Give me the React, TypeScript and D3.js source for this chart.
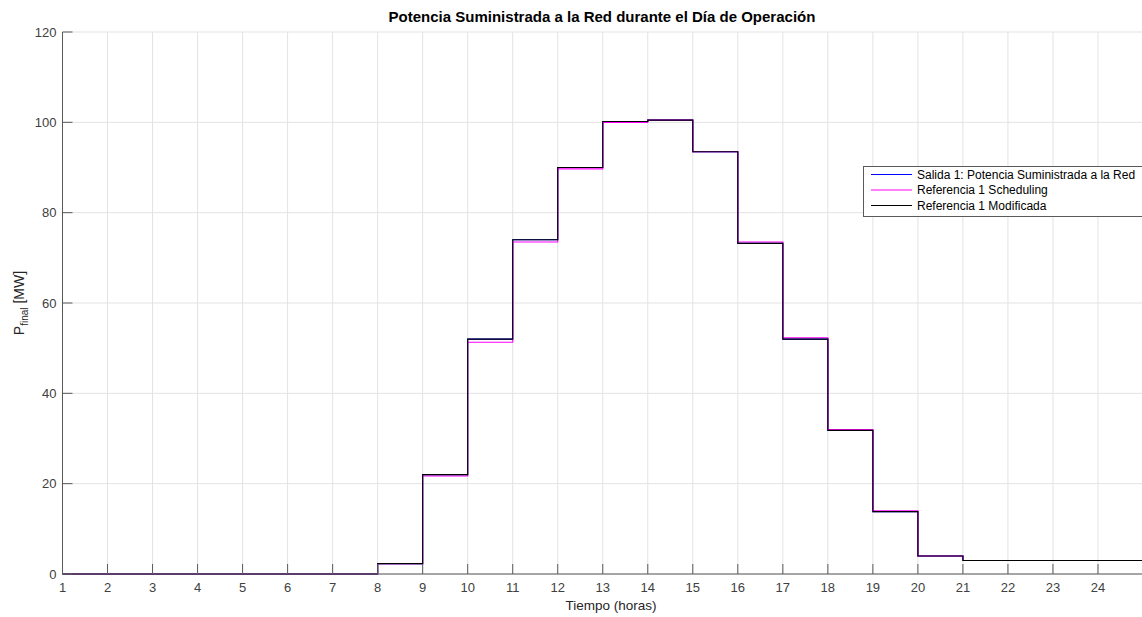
import React, { useEffect, useRef } from "react";
import * as d3 from "d3";

// Hourly blocks: each value holds from hour h to h+1
const hours = [1, 2, 3, 4, 5, 6, 7, 8, 9, 10, 11, 12, 13, 14, 15, 16, 17, 18, 19, 20, 21, 22, 23, 24];
const salida = [0, 0, 0, 0, 0, 0, 0, 2.3, 22.0, 52.0, 74.0, 90.0, 100.2, 100.5, 93.5, 73.2, 52.0, 31.8, 13.8, 4.0, 3.0, 3.0, 3.0, 3.0];
const scheduling = [0, 0, 0, 0, 0, 0, 0, 2.3, 21.7, 51.3, 73.5, 89.7, 100.0, 100.5, 93.5, 73.5, 52.3, 32.0, 14.0, 4.0, 3.0, 3.0, 3.0, 3.0];
const modificada = [0, 0, 0, 0, 0, 0, 0, 2.3, 22.0, 52.0, 74.0, 90.0, 100.2, 100.5, 93.5, 73.2, 52.0, 31.8, 13.8, 4.0, 3.0, 3.0, 3.0, 3.0];
const xTicks = [1, 2, 3, 4, 5, 6, 7, 8, 9, 10, 11, 12, 13, 14, 15, 16, 17, 18, 19, 20, 21, 22, 23, 24];
const yTicks = [0, 20, 40, 60, 80, 100, 120];
const seriesNames = [
  "Salida 1: Potencia Suministrada a la Red",
  "Referencia 1 Scheduling",
  "Referencia 1 Modificada",
];
const seriesColors = ["#0000ff", "#ff00ff", "#000000"];

const W = 1142;
const H = 617;
const FONT = "'Liberation Sans', Arial, Helvetica, sans-serif";

export default function App() {
  const ref = useRef<SVGSVGElement | null>(null);

  useEffect(() => {
    const svg = d3.select(ref.current);
    svg.selectAll("*").remove();

    const x = d3.scaleLinear().domain([1, 25]).range([62.5, 1143]);
    const y = d3.scaleLinear().domain([0, 120]).range([574, 32]);

    const g = svg.append("g");

    // grid
    g.selectAll("line.vg")
      .data(xTicks.concat([25]))
      .enter()
      .append("line")
      .attr("x1", (d) => x(d))
      .attr("x2", (d) => x(d))
      .attr("y1", y(0))
      .attr("y2", y(120))
      .attr("stroke", "#e3e3e3")
      .attr("stroke-width", 1);
    g.selectAll("line.hg")
      .data(yTicks)
      .enter()
      .append("line")
      .attr("x1", x(1))
      .attr("x2", W)
      .attr("y1", (d) => y(d))
      .attr("y2", (d) => y(d))
      .attr("stroke", "#e3e3e3")
      .attr("stroke-width", 1);

    // step series
    const series = [salida, scheduling, modificada];
    series.forEach((vals, i) => {
      const pts: [number, number][] = hours.map((h, k) => [h, vals[k]]);
      pts.push([25, vals[vals.length - 1]]);
      const line = d3
        .line<[number, number]>()
        .x((d) => x(d[0]))
        .y((d) => y(d[1]))
        .curve(d3.curveStepAfter);
      g.append("path")
        .attr("d", line(pts))
        .attr("fill", "none")
        .attr("stroke", seriesColors[i])
        .attr("stroke-width", 1.1);
    });

    // axes lines
    const axisColor = "#5a5a5a";
    g.append("line")
      .attr("x1", x(1))
      .attr("x2", W)
      .attr("y1", y(0))
      .attr("y2", y(0))
      .attr("stroke", axisColor);
    g.append("line")
      .attr("x1", x(1))
      .attr("x2", x(1))
      .attr("y1", y(0))
      .attr("y2", y(120))
      .attr("stroke", axisColor);

    // x ticks
    xTicks.forEach((t) => {
      g.append("line")
        .attr("x1", x(t))
        .attr("x2", x(t))
        .attr("y1", y(0))
        .attr("y2", y(0) - 10)
        .attr("stroke", axisColor);
      g.append("text")
        .attr("x", x(t))
        .attr("y", y(0) + 18)
        .attr("text-anchor", "middle")
        .attr("font-family", FONT)
        .attr("font-size", 13)
        .attr("fill", "#404040")
        .text(String(t));
    });

    // y ticks
    yTicks.forEach((t) => {
      g.append("line")
        .attr("x1", x(1))
        .attr("x2", x(1) + 10)
        .attr("y1", y(t))
        .attr("y2", y(t))
        .attr("stroke", axisColor);
      g.append("text")
        .attr("x", x(1) - 6)
        .attr("y", y(t) + 4.5)
        .attr("text-anchor", "end")
        .attr("font-family", FONT)
        .attr("font-size", 13)
        .attr("fill", "#404040")
        .text(String(t));
    });

    // title
    svg
      .append("text")
      .attr("x", 602)
      .attr("y", 22)
      .attr("text-anchor", "middle")
      .attr("font-family", FONT)
      .attr("font-size", 15)
      .attr("font-weight", "bold")
      .attr("fill", "#000")
      .text("Potencia Suministrada a la Red durante el Día de Operación");

    // x label
    svg
      .append("text")
      .attr("x", 611)
      .attr("y", 610)
      .attr("text-anchor", "middle")
      .attr("font-family", FONT)
      .attr("font-size", 13.5)
      .attr("fill", "#262626")
      .text("Tiempo (horas)");

    // y label with subscript
    const yl = svg
      .append("text")
      .attr("transform", "translate(24,303) rotate(-90)")
      .attr("text-anchor", "middle")
      .attr("font-family", FONT)
      .attr("font-size", 14)
      .attr("fill", "#262626");
    yl.append("tspan").text("P");
    yl.append("tspan").attr("font-size", 10).attr("dy", 4).text("final");
    yl.append("tspan").attr("dy", -4).text(" [MW]");

    // legend
    const lg = svg.append("g");
    lg.append("rect")
      .attr("x", 863.5)
      .attr("y", 166.5)
      .attr("width", 290)
      .attr("height", 50)
      .attr("fill", "#fff")
      .attr("stroke", "#5a5a5a")
      .attr("stroke-width", 1);
    seriesNames.forEach((name, i) => {
      const yy = 174.5 + i * 15.5;
      lg.append("line")
        .attr("x1", 871)
        .attr("x2", 912)
        .attr("y1", yy)
        .attr("y2", yy)
        .attr("stroke", seriesColors[i])
        .attr("stroke-width", 1.1);
      lg.append("text")
        .attr("x", 917)
        .attr("y", yy + 4.3)
        .attr("font-family", FONT)
        .attr("font-size", 12)
        .attr("fill", "#000")
        .text(name);
    });
  }, []);

  return (
    <div style={{ position: "fixed", left: 0, top: 0, width: W, height: H, background: "#fff" }}>
      <svg ref={ref} width={W} height={H} style={{ display: "block" }} />
    </div>
  );
}
